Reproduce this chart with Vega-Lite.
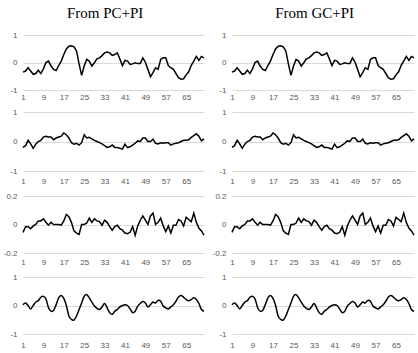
{
"$schema":"https://vega.github.io/schema/vega-lite/v6.json",
"padding":{"left":3,"top":6,"right":3,"bottom":0},
"data":{"values":[
{"r":1,"x":1,"y":-0.35},{"r":1,"x":2,"y":-0.31},{"r":1,"x":3,"y":-0.19},{"r":1,"x":4,"y":-0.31},{"r":1,"x":5,"y":-0.43},{"r":1,"x":6,"y":-0.40},{"r":1,"x":7,"y":-0.28},{"r":1,"x":8,"y":-0.40},{"r":1,"x":9,"y":-0.23},{"r":1,"x":10,"y":0.0},
{"r":1,"x":11,"y":0.05},{"r":1,"x":12,"y":-0.13},{"r":1,"x":13,"y":-0.25},{"r":1,"x":14,"y":-0.29},{"r":1,"x":15,"y":-0.11},{"r":1,"x":16,"y":0.05},{"r":1,"x":17,"y":0.29},{"r":1,"x":18,"y":0.49},{"r":1,"x":19,"y":0.59},{"r":1,"x":20,"y":0.61},
{"r":1,"x":21,"y":0.57},{"r":1,"x":22,"y":0.42},{"r":1,"x":23,"y":-0.05},{"r":1,"x":24,"y":-0.47},{"r":1,"x":25,"y":-0.13},{"r":1,"x":26,"y":0.11},{"r":1,"x":27,"y":0.05},{"r":1,"x":28,"y":-0.13},{"r":1,"x":29,"y":-0.01},{"r":1,"x":30,"y":0.13},
{"r":1,"x":31,"y":0.17},{"r":1,"x":32,"y":0.25},{"r":1,"x":33,"y":0.35},{"r":1,"x":34,"y":0.38},{"r":1,"x":35,"y":0.35},{"r":1,"x":36,"y":0.26},{"r":1,"x":37,"y":0.29},{"r":1,"x":38,"y":0.35},{"r":1,"x":39,"y":0.13},{"r":1,"x":40,"y":-0.11},
{"r":1,"x":41,"y":0.08},{"r":1,"x":42,"y":0.05},{"r":1,"x":43,"y":-0.07},{"r":1,"x":44,"y":-0.05},{"r":1,"x":45,"y":-0.01},{"r":1,"x":46,"y":-0.04},{"r":1,"x":47,"y":-0.04},{"r":1,"x":48,"y":0.17},{"r":1,"x":49,"y":0.01},{"r":1,"x":50,"y":-0.25},
{"r":1,"x":51,"y":-0.52},{"r":1,"x":52,"y":-0.37},{"r":1,"x":53,"y":-0.19},{"r":1,"x":54,"y":-0.25},{"r":1,"x":55,"y":0.11},{"r":1,"x":56,"y":0.17},{"r":1,"x":57,"y":0.17},{"r":1,"x":58,"y":-0.11},{"r":1,"x":59,"y":-0.19},{"r":1,"x":60,"y":-0.25},
{"r":1,"x":61,"y":-0.40},{"r":1,"x":62,"y":-0.55},{"r":1,"x":63,"y":-0.61},{"r":1,"x":64,"y":-0.59},{"r":1,"x":65,"y":-0.45},{"r":1,"x":66,"y":-0.34},{"r":1,"x":67,"y":-0.1},{"r":1,"x":68,"y":0.05},{"r":1,"x":69,"y":0.22},{"r":1,"x":70,"y":0.08},
{"r":1,"x":71,"y":0.22},{"r":1,"x":72,"y":0.17},
{"r":2,"x":1,"y":-0.2},{"r":2,"x":2,"y":-0.14},{"r":2,"x":3,"y":0.04},{"r":2,"x":4,"y":-0.08},{"r":2,"x":5,"y":-0.23},{"r":2,"x":6,"y":-0.09},{"r":2,"x":7,"y":0.0},{"r":2,"x":8,"y":0.04},{"r":2,"x":9,"y":0.15},{"r":2,"x":10,"y":0.18},
{"r":2,"x":11,"y":0.15},{"r":2,"x":12,"y":0.15},{"r":2,"x":13,"y":0.06},{"r":2,"x":14,"y":0.12},{"r":2,"x":15,"y":0.15},{"r":2,"x":16,"y":0.18},{"r":2,"x":17,"y":0.29},{"r":2,"x":18,"y":0.23},{"r":2,"x":19,"y":0.12},{"r":2,"x":20,"y":-0.04},
{"r":2,"x":21,"y":-0.09},{"r":2,"x":22,"y":-0.06},{"r":2,"x":23,"y":-0.12},{"r":2,"x":24,"y":-0.04},{"r":2,"x":25,"y":0.23},{"r":2,"x":26,"y":0.12},{"r":2,"x":27,"y":0.14},{"r":2,"x":28,"y":0.09},{"r":2,"x":29,"y":0.04},{"r":2,"x":30,"y":0.0},
{"r":2,"x":31,"y":-0.04},{"r":2,"x":32,"y":-0.08},{"r":2,"x":33,"y":-0.14},{"r":2,"x":34,"y":-0.2},{"r":2,"x":35,"y":-0.18},{"r":2,"x":36,"y":-0.12},{"r":2,"x":37,"y":-0.2},{"r":2,"x":38,"y":-0.2},{"r":2,"x":39,"y":-0.23},{"r":2,"x":40,"y":-0.26},
{"r":2,"x":41,"y":-0.09},{"r":2,"x":42,"y":-0.21},{"r":2,"x":43,"y":-0.18},{"r":2,"x":44,"y":-0.12},{"r":2,"x":45,"y":-0.06},{"r":2,"x":46,"y":0.02},{"r":2,"x":47,"y":0.0},{"r":2,"x":48,"y":0.12},{"r":2,"x":49,"y":0.12},{"r":2,"x":50,"y":0.0},
{"r":2,"x":51,"y":0.0},{"r":2,"x":52,"y":0.08},{"r":2,"x":53,"y":-0.06},{"r":2,"x":54,"y":-0.08},{"r":2,"x":55,"y":-0.04},{"r":2,"x":56,"y":-0.06},{"r":2,"x":57,"y":-0.04},{"r":2,"x":58,"y":-0.04},{"r":2,"x":59,"y":-0.12},{"r":2,"x":60,"y":-0.08},
{"r":2,"x":61,"y":-0.06},{"r":2,"x":62,"y":-0.04},{"r":2,"x":63,"y":0.0},{"r":2,"x":64,"y":0.04},{"r":2,"x":65,"y":0.04},{"r":2,"x":66,"y":0.06},{"r":2,"x":67,"y":0.14},{"r":2,"x":68,"y":0.2},{"r":2,"x":69,"y":0.26},{"r":2,"x":70,"y":0.18},
{"r":2,"x":71,"y":0.02},{"r":2,"x":72,"y":0.09},
{"r":3,"x":1,"y":-0.055},{"r":3,"x":2,"y":-0.015},{"r":3,"x":3,"y":-0.015},{"r":3,"x":4,"y":-0.03},{"r":3,"x":5,"y":-0.01},{"r":3,"x":6,"y":0.0},{"r":3,"x":7,"y":0.025},{"r":3,"x":8,"y":0.025},{"r":3,"x":9,"y":0.04},{"r":3,"x":10,"y":0.015},
{"r":3,"x":11,"y":-0.005},{"r":3,"x":12,"y":0.015},{"r":3,"x":13,"y":0.0},{"r":3,"x":14,"y":0.0},{"r":3,"x":15,"y":0.0},{"r":3,"x":16,"y":-0.005},{"r":3,"x":17,"y":0.025},{"r":3,"x":18,"y":0.07},{"r":3,"x":19,"y":0.055},{"r":3,"x":20,"y":0.015},
{"r":3,"x":21,"y":-0.045},{"r":3,"x":22,"y":-0.06},{"r":3,"x":23,"y":-0.07},{"r":3,"x":24,"y":0.0},{"r":3,"x":25,"y":0.0},{"r":3,"x":26,"y":0.01},{"r":3,"x":27,"y":0.045},{"r":3,"x":28,"y":0.015},{"r":3,"x":29,"y":0.04},{"r":3,"x":30,"y":0.025},
{"r":3,"x":31,"y":0.02},{"r":3,"x":32,"y":-0.005},{"r":3,"x":33,"y":0.03},{"r":3,"x":34,"y":0.015},{"r":3,"x":35,"y":-0.015},{"r":3,"x":36,"y":-0.04},{"r":3,"x":37,"y":-0.015},{"r":3,"x":38,"y":-0.005},{"r":3,"x":39,"y":-0.03},{"r":3,"x":40,"y":-0.04},
{"r":3,"x":41,"y":-0.06},{"r":3,"x":42,"y":-0.065},{"r":3,"x":43,"y":-0.055},{"r":3,"x":44,"y":-0.015},{"r":3,"x":45,"y":-0.075},{"r":3,"x":46,"y":-0.01},{"r":3,"x":47,"y":0.03},{"r":3,"x":48,"y":0.06},{"r":3,"x":49,"y":0.03},{"r":3,"x":50,"y":0.0},
{"r":3,"x":51,"y":0.06},{"r":3,"x":52,"y":0.08},{"r":3,"x":53,"y":0.0},{"r":3,"x":54,"y":0.015},{"r":3,"x":55,"y":0.045},{"r":3,"x":56,"y":-0.01},{"r":3,"x":57,"y":-0.05},{"r":3,"x":58,"y":-0.01},{"r":3,"x":59,"y":-0.06},{"r":3,"x":60,"y":-0.005},
{"r":3,"x":61,"y":-0.005},{"r":3,"x":62,"y":0.035},{"r":3,"x":63,"y":0.025},{"r":3,"x":64,"y":-0.01},{"r":3,"x":65,"y":0.05},{"r":3,"x":66,"y":0.035},{"r":3,"x":67,"y":0.02},{"r":3,"x":68,"y":0.08},{"r":3,"x":69,"y":0.015},{"r":3,"x":70,"y":-0.025},
{"r":3,"x":71,"y":-0.045},{"r":3,"x":72,"y":-0.075},
{"r":4,"x":1,"y":0.03},{"r":4,"x":2,"y":0.09},{"r":4,"x":3,"y":0.0},{"r":4,"x":4,"y":-0.12},{"r":4,"x":5,"y":0.0},{"r":4,"x":6,"y":0.12},{"r":4,"x":7,"y":0.17},{"r":4,"x":8,"y":0.29},{"r":4,"x":9,"y":0.32},{"r":4,"x":10,"y":0.23},
{"r":4,"x":11,"y":-0.08},{"r":4,"x":12,"y":-0.2},{"r":4,"x":13,"y":-0.17},{"r":4,"x":14,"y":0.03},{"r":4,"x":15,"y":0.27},{"r":4,"x":16,"y":0.35},{"r":4,"x":17,"y":0.25},{"r":4,"x":18,"y":0.0},{"r":4,"x":19,"y":-0.37},{"r":4,"x":20,"y":-0.49},
{"r":4,"x":21,"y":-0.51},{"r":4,"x":22,"y":-0.37},{"r":4,"x":23,"y":-0.14},{"r":4,"x":24,"y":0.09},{"r":4,"x":25,"y":0.32},{"r":4,"x":26,"y":0.38},{"r":4,"x":27,"y":0.27},{"r":4,"x":28,"y":0.12},{"r":4,"x":29,"y":-0.02},{"r":4,"x":30,"y":-0.1},
{"r":4,"x":31,"y":-0.14},{"r":4,"x":32,"y":-0.05},{"r":4,"x":33,"y":0.07},{"r":4,"x":34,"y":-0.08},{"r":4,"x":35,"y":-0.25},{"r":4,"x":36,"y":-0.31},{"r":4,"x":37,"y":-0.2},{"r":4,"x":38,"y":-0.14},{"r":4,"x":39,"y":-0.05},{"r":4,"x":40,"y":0.0},
{"r":4,"x":41,"y":0.03},{"r":4,"x":42,"y":0.0},{"r":4,"x":43,"y":-0.12},{"r":4,"x":44,"y":-0.25},{"r":4,"x":45,"y":-0.2},{"r":4,"x":46,"y":-0.02},{"r":4,"x":47,"y":0.07},{"r":4,"x":48,"y":0.14},{"r":4,"x":49,"y":0.09},{"r":4,"x":50,"y":-0.05},
{"r":4,"x":51,"y":0.03},{"r":4,"x":52,"y":0.12},{"r":4,"x":53,"y":0.09},{"r":4,"x":54,"y":0.18},{"r":4,"x":55,"y":0.15},{"r":4,"x":56,"y":-0.02},{"r":4,"x":57,"y":-0.08},{"r":4,"x":58,"y":-0.12},{"r":4,"x":59,"y":-0.05},{"r":4,"x":60,"y":0.03},
{"r":4,"x":61,"y":0.15},{"r":4,"x":62,"y":0.3},{"r":4,"x":63,"y":0.35},{"r":4,"x":64,"y":0.29},{"r":4,"x":65,"y":0.21},{"r":4,"x":66,"y":0.17},{"r":4,"x":67,"y":0.21},{"r":4,"x":68,"y":0.27},{"r":4,"x":69,"y":0.21},{"r":4,"x":70,"y":0.07},
{"r":4,"x":71,"y":-0.14},{"r":4,"x":72,"y":-0.2}
]},
"config":{
"view":{"stroke":null},
"axis":{"labelFont":"Liberation Sans","labelFontSize":8,"labelColor":"#595959","domain":false,"ticks":false,"title":null},
"axisX":{"grid":false,"labelFlush":false},
"axisY":{"labelPadding":6,"gridColor":"#d9d9d9"},
"title":{"font":"Liberation Serif","fontSize":15,"fontWeight":"normal","color":"#000000","offset":10,"anchor":"middle"},
"line":{"color":"#000000","strokeWidth":1.5}
},
"spacing":5,
"hconcat":[
{"title":"From PC+PI","spacing":7,"vconcat":[
{"width":181,"height":55,"transform":[{"filter":"datum.r==1"}],"mark":"line","encoding":{"x":{"field":"x","type":"quantitative","scale":{"domain":[1,72],"nice":false},"axis":{"values":[1,9,17,25,33,41,49,57,65],"labelPadding":3}},"y":{"field":"y","type":"quantitative","scale":{"domain":[-1,1],"nice":false},"axis":{"values":[-1,0,1],"labelExpr":"''+datum.value"}}}},
{"width":181,"height":59,"transform":[{"filter":"datum.r==2"}],"mark":"line","encoding":{"x":{"field":"x","type":"quantitative","scale":{"domain":[1,72],"nice":false},"axis":{"values":[1,9,17,25,33,41,49,57,65],"labelPadding":6}},"y":{"field":"y","type":"quantitative","scale":{"domain":[-1,1],"nice":false},"axis":{"values":[-1,0,1],"labelExpr":"''+datum.value"}}}},
{"width":181,"height":57,"transform":[{"filter":"datum.r==3"}],"mark":"line","encoding":{"x":{"field":"x","type":"quantitative","scale":{"domain":[1,72],"nice":false},"axis":{"values":[1,9,17,25,33,41,49,57,65],"labelPadding":5}},"y":{"field":"y","type":"quantitative","scale":{"domain":[-0.2,0.2],"nice":false},"axis":{"values":[-0.2,0,0.2],"labelExpr":"''+datum.value"}}}},
{"width":181,"height":57,"transform":[{"filter":"datum.r==4"}],"mark":{"type":"line","interpolate":"cardinal"},"encoding":{"x":{"field":"x","type":"quantitative","scale":{"domain":[1,72],"nice":false},"axis":{"values":[1,9,17,25,33,41,49,57,65],"labelPadding":7}},"y":{"field":"y","type":"quantitative","scale":{"domain":[-1,1],"nice":false},"axis":{"values":[-1,0,1],"labelExpr":"''+datum.value"}}}}
]},
{"title":"From GC+PI","spacing":7,"vconcat":[
{"width":182,"height":55,"transform":[{"filter":"datum.r==1"}],"mark":"line","encoding":{"x":{"field":"x","type":"quantitative","scale":{"domain":[1,72],"nice":false},"axis":{"values":[1,9,17,25,33,41,49,57,65],"labelPadding":3}},"y":{"field":"y","type":"quantitative","scale":{"domain":[-1,1],"nice":false},"axis":{"values":[-1,0,1],"labelExpr":"''+datum.value"}}}},
{"width":182,"height":59,"transform":[{"filter":"datum.r==2"}],"mark":"line","encoding":{"x":{"field":"x","type":"quantitative","scale":{"domain":[1,72],"nice":false},"axis":{"values":[1,9,17,25,33,41,49,57,65],"labelPadding":6}},"y":{"field":"y","type":"quantitative","scale":{"domain":[-1,1],"nice":false},"axis":{"values":[-1,0,1],"labelExpr":"''+datum.value"}}}},
{"width":182,"height":57,"transform":[{"filter":"datum.r==3"}],"mark":"line","encoding":{"x":{"field":"x","type":"quantitative","scale":{"domain":[1,72],"nice":false},"axis":{"values":[1,9,17,25,33,41,49,57,65],"labelPadding":5}},"y":{"field":"y","type":"quantitative","scale":{"domain":[-0.2,0.2],"nice":false},"axis":{"values":[-0.2,0,0.2],"labelExpr":"''+datum.value"}}}},
{"width":182,"height":57,"transform":[{"filter":"datum.r==4"}],"mark":{"type":"line","interpolate":"cardinal"},"encoding":{"x":{"field":"x","type":"quantitative","scale":{"domain":[1,72],"nice":false},"axis":{"values":[1,9,17,25,33,41,49,57,65],"labelPadding":7}},"y":{"field":"y","type":"quantitative","scale":{"domain":[-1,1],"nice":false},"axis":{"values":[-1,0,1],"labelExpr":"''+datum.value"}}}}
]}
]
}
